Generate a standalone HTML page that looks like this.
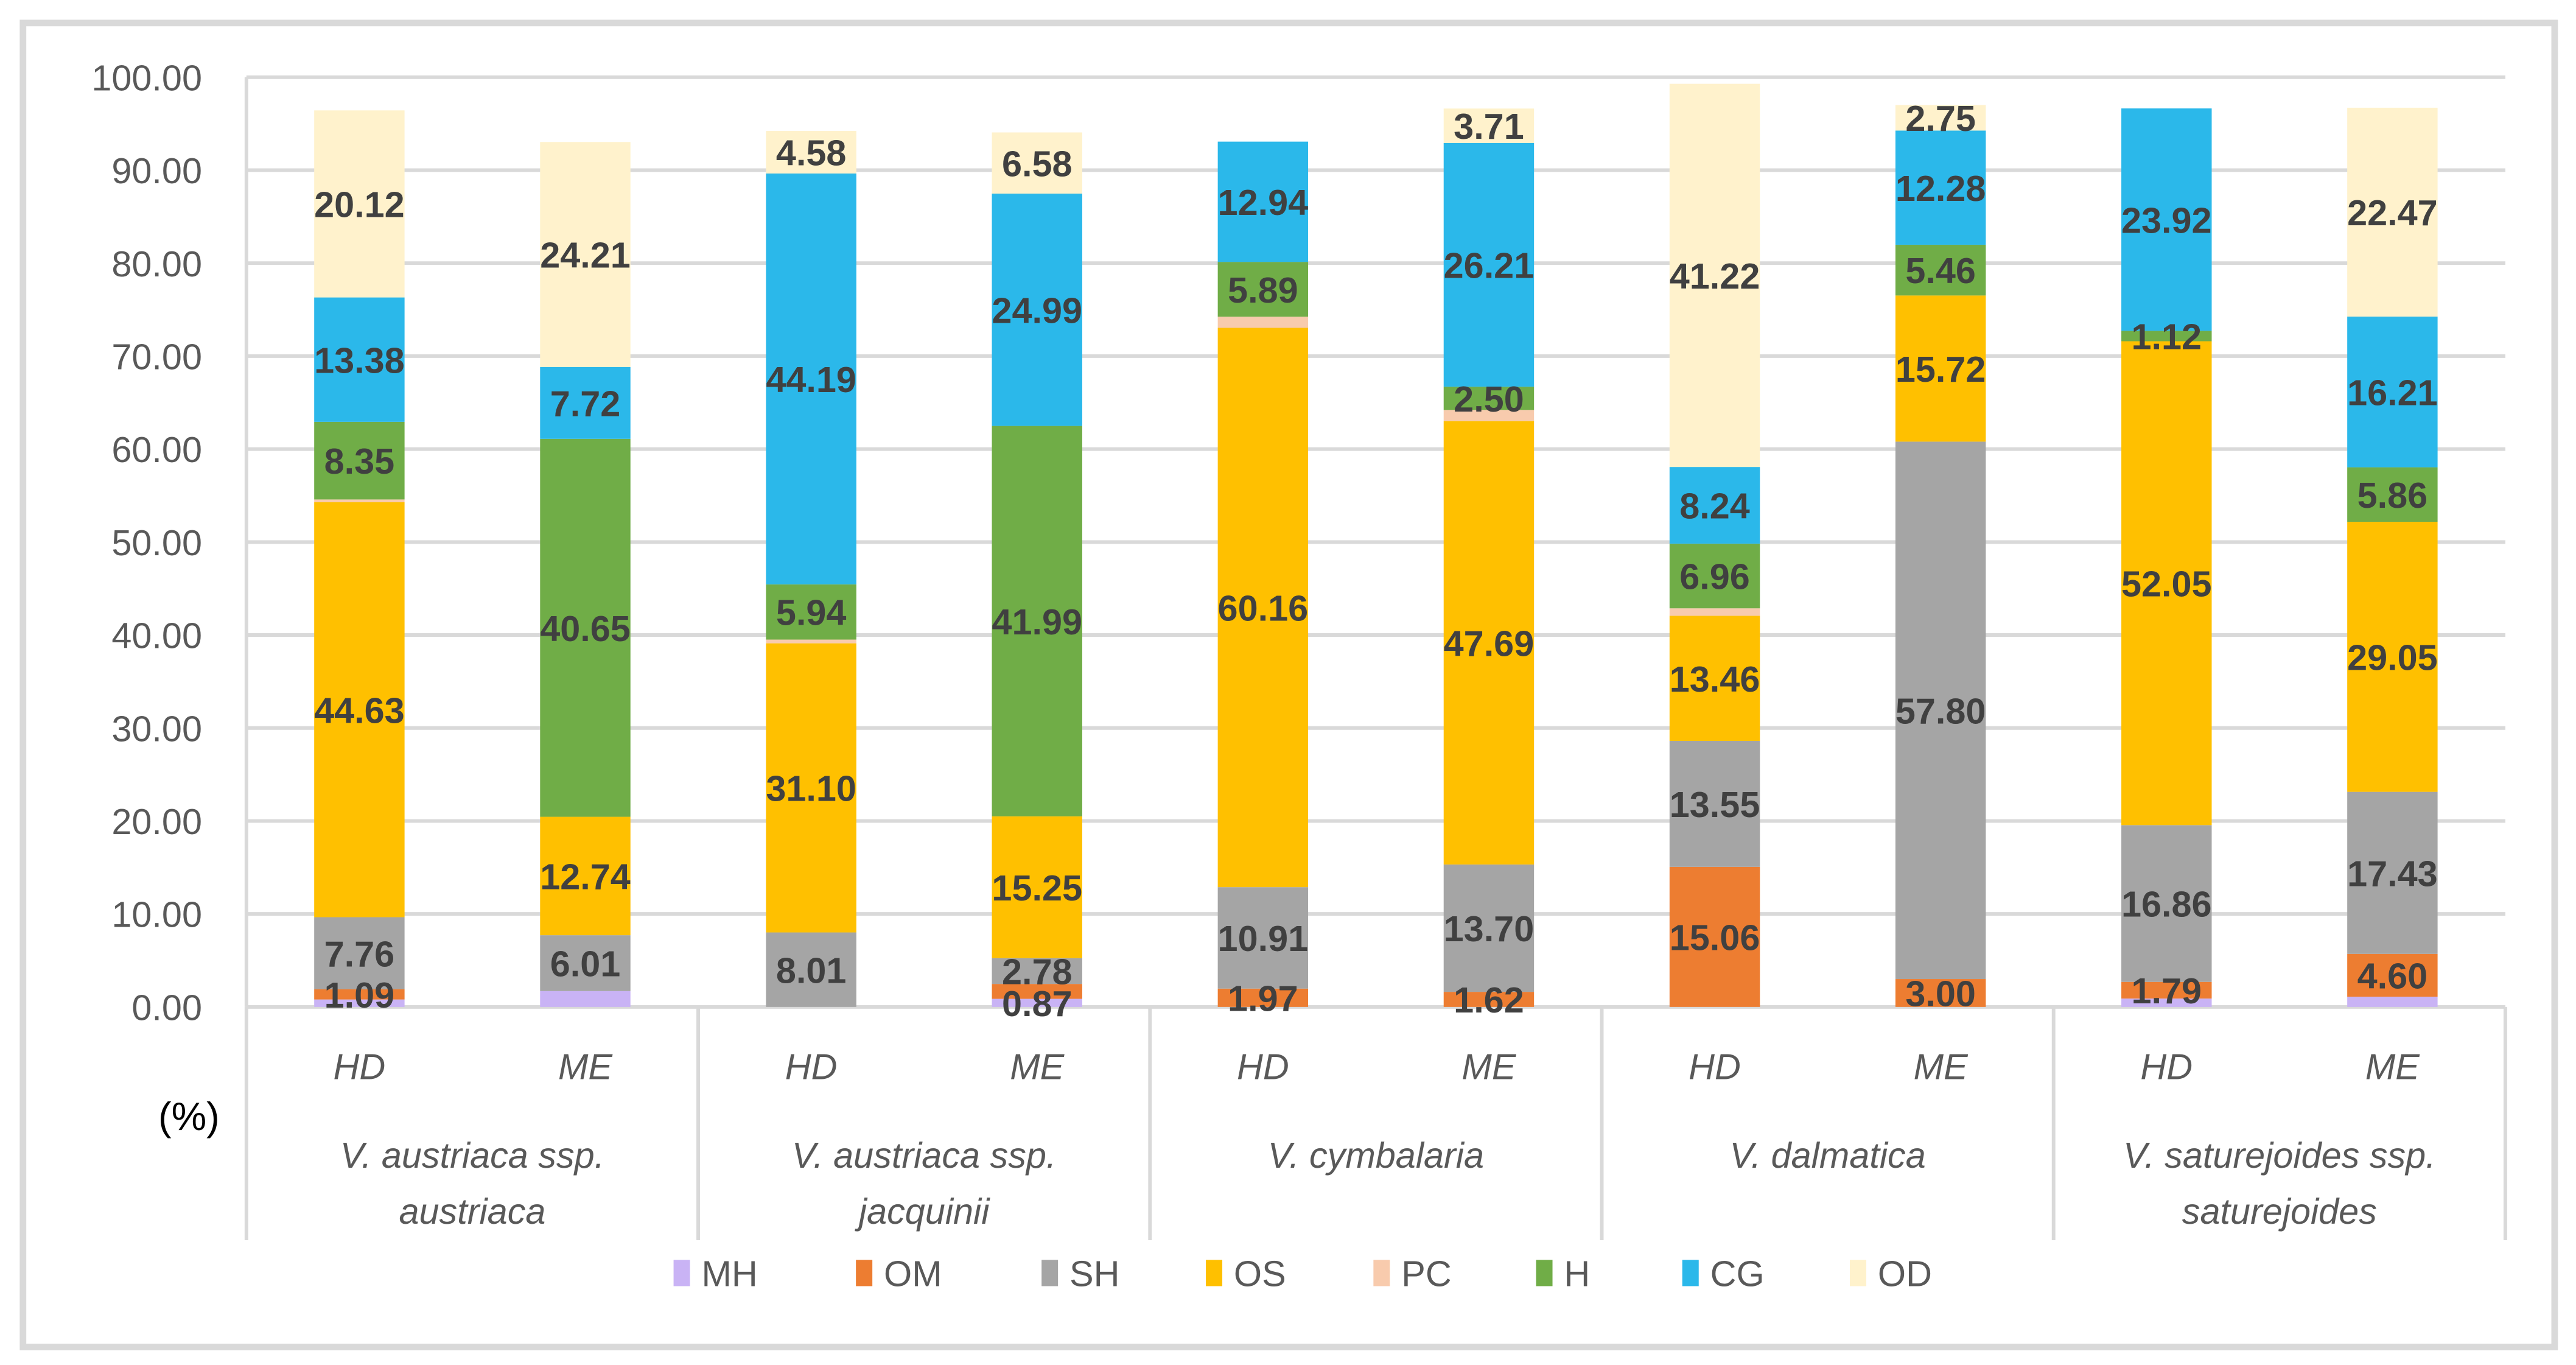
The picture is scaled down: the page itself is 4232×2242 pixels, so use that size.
<!DOCTYPE html>
<html><head><meta charset="utf-8"><style>
html,body{margin:0;padding:0;background:#fff;}
svg{display:block;}
text{font-family:"Liberation Sans",sans-serif;}
</style></head><body>
<svg id="chart" width="4232" height="2242" viewBox="0 0 1568 831" preserveAspectRatio="none" xmlns="http://www.w3.org/2000/svg">
<rect x="14" y="14" width="1541" height="806" fill="#fff" stroke="#d9d9d9" stroke-width="4"/>
<g id="grid"></g><g id="bars"></g><g id="labels"></g><g id="axes"></g><g id="legend"></g>
</svg>
<script>
const series = ["MH","OM","SH","OS","PC","H","CG","OD"];
const colors = ["#C9B3F5","#ED7D31","#A5A5A5","#FFC000","#F8CBAD","#70AD47","#2BB8EA","#FFF2CC"];
const species = [["V. austriaca ssp.","austriaca"],["V. austriaca ssp.","jacquinii"],["V. cymbalaria"],["V. dalmatica"],["V. saturejoides ssp.","saturejoides"]];
const methods = ["HD","ME"];
const yTicks = [0,10,20,30,40,50,60,70,80,90,100];
// columns: HD1, ME1, HD2, ME2, HD3, ME3, HD4, ME4, HD5, ME5
const MH = [0.8,1.7,0,0.87,0,0,0,0,0.9,1.1];
const OM = [1.09,0,0,1.6,1.97,1.62,15.06,3.00,1.79,4.60];
const SH = [7.76,6.01,8.01,2.78,10.91,13.70,13.55,57.80,16.86,17.43];
const OS = [44.63,12.74,31.10,15.25,60.16,47.69,13.46,15.72,52.05,29.05];
const PC = [0.3,0,0.4,0,1.2,1.2,0.8,0,0,0];
const H  = [8.35,40.65,5.94,41.99,5.89,2.50,6.96,5.46,1.12,5.86];
const CG = [13.38,7.72,44.19,24.99,12.94,26.21,8.24,12.28,23.92,16.21];
const OD = [20.12,24.21,4.58,6.58,0,3.71,41.22,2.75,0,22.47];
const showMH = [false,false,false,true,false,false,false,false,false,false];
const showOM = [true,true,true,false,true,true,true,true,true,true];
const vals = [MH,OM,SH,OS,PC,H,CG,OD];

const NS="http://www.w3.org/2000/svg";
const L=150,R=1525,T=47,B=613;
const y = v => B - (v/100)*(B-T);
const groupW=(R-L)/5;
const xc = i => L + Math.floor(i/2)*groupW + (i%2===0?0.25:0.75)*groupW;
const bw=55;
function mk(tag,attrs,parent){const e=document.createElementNS(NS,tag);for(const k in attrs)e.setAttribute(k,attrs[k]);document.getElementById(parent).appendChild(e);return e;}

yTicks.forEach(t=>{
  const g=mk('line',{x1:L,x2:R,y1:y(t),y2:y(t),stroke:'#d9d9d9','stroke-width':2.2},'grid');
  
  
  const tx=mk('text',{x:123,y:y(t)+8,'text-anchor':'end','font-size':22,fill:'#595959'},'axes');
  tx.textContent=t.toFixed(2);
  
  
});
const ax=mk('line',{x1:L,x2:L,y1:T,y2:B,stroke:'#d9d9d9','stroke-width':2.2},'axes');


for(let g=0;g<=5;g++){
  const s=mk('line',{x1:L+g*groupW,x2:L+g*groupW,y1:B,y2:755,stroke:'#d9d9d9','stroke-width':2.2},'axes');
  
  
}
for(let i=0;i<10;i++){
  let acc=0;
  vals.forEach((arr,si)=>{
    const v=arr[i];
    if(v>0){
      const r=mk('rect',{x:xc(i)-bw/2,y:y(acc+v),width:bw,height:y(acc)-y(acc+v),fill:colors[si]},'bars');
      
      
      const lab = series[si]!=='PC' && (series[si]!=='MH' || showMH[i]) && (series[si]!=='OM' || showOM[i]);
      if(lab){
        const t=mk('text',{x:xc(i),y:(y(acc)+y(acc+v))/2+8,'text-anchor':'middle','font-size':22,'font-weight':'bold',fill:'#404040'},'labels');
        t.textContent=v.toFixed(2);
        
        
      }
    }
    acc+=v;
  });
  const m=mk('text',{x:xc(i),y:657,'text-anchor':'middle','font-size':22,'font-style':'italic',fill:'#595959'},'axes');
  m.textContent=methods[i%2];
  
  
}
species.forEach((sp,g)=>{
  sp.forEach((line,li)=>{
    const t=mk('text',{x:L+(g+0.5)*groupW,y:711+li*34,'text-anchor':'middle','font-size':22,'font-style':'italic',fill:'#595959'},'axes');
    t.textContent=line;
    
    
  });
});
const pct=mk('text',{x:115,y:688,'text-anchor':'middle','font-size':24,fill:'#000'},'axes');
pct.textContent='(%)';


const legX=[410,521,634,734,836,935,1024,1126];
series.forEach((s,i)=>{
  const r=mk('rect',{x:legX[i],y:767,width:10,height:16,fill:colors[i]},'legend');
  
  
  const t=mk('text',{x:legX[i]+17,y:783,'font-size':22,fill:'#595959'},'legend');
  t.textContent=s;
  
  
});
</script>
</body></html>
